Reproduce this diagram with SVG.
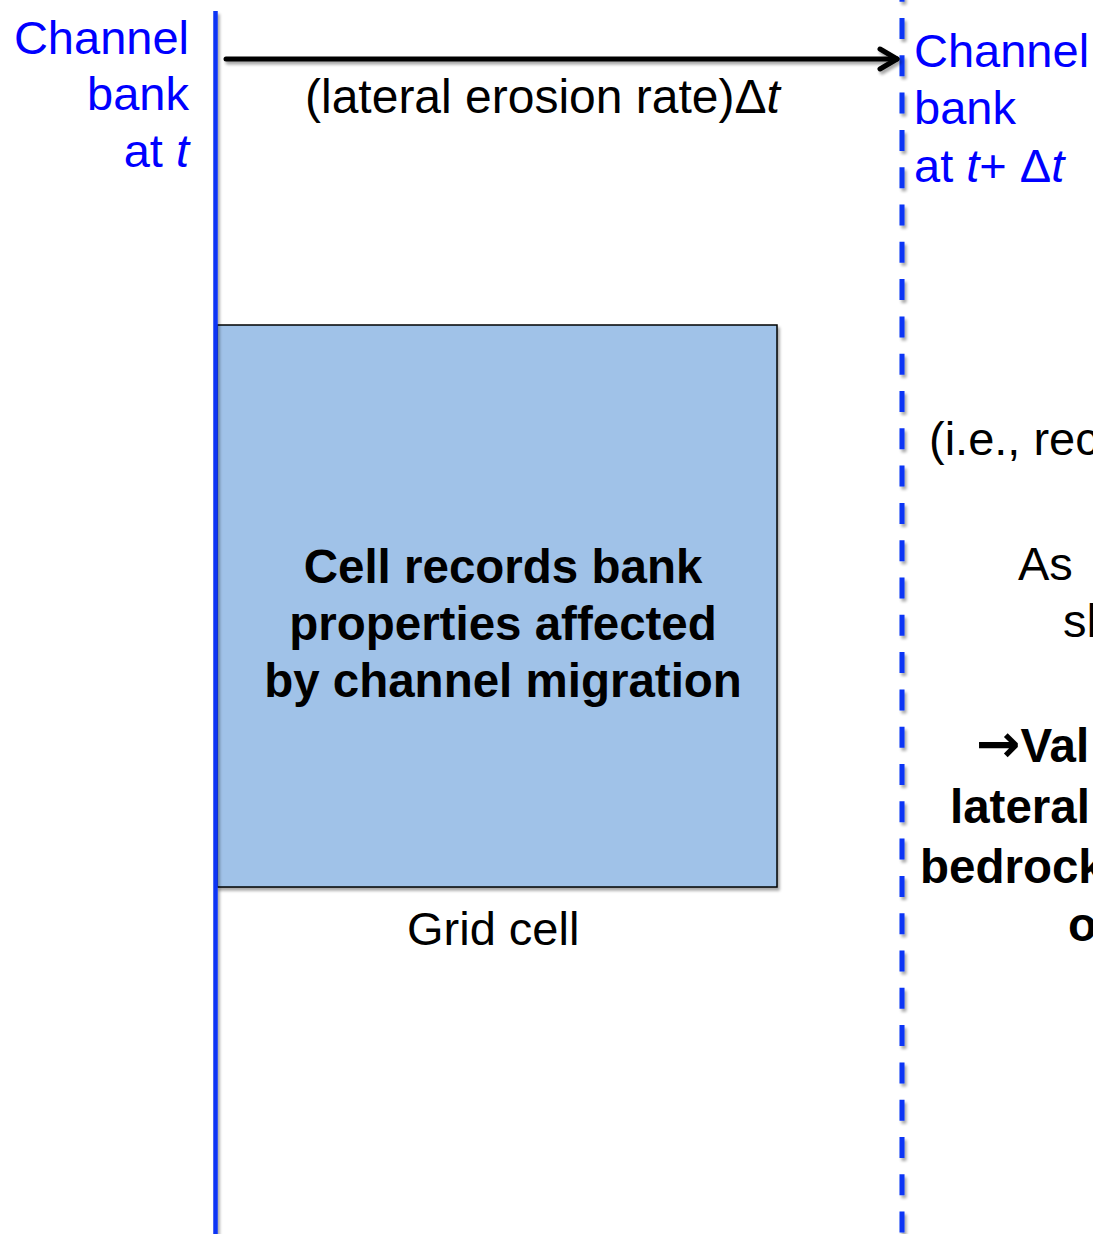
<svg xmlns="http://www.w3.org/2000/svg" width="1093" height="1234" viewBox="0 0 1093 1234">
  <style>
    text { font-family: "Liberation Sans", Arial, Helvetica, sans-serif; font-size: 47px; }
    .blue { fill: #0000FF; }
    .black { fill: #000000; }
    .bold { font-weight: bold; font-size: 47.5px; }
    .it { font-style: italic; }
    .sym { font-family: "DejaVu Sans", sans-serif; font-size: 53px; }
    .bank { stroke: #0A35F5; fill: none; }
  </style>
  <defs>
    <!-- soft drop shadow; user-space region so zero-width lines still render -->
    <filter id="shadow" filterUnits="userSpaceOnUse" x="0" y="-40" width="1093" height="1300">
      <feGaussianBlur in="SourceAlpha" stdDeviation="1.6"/>
      <feOffset dx="2" dy="3" result="b"/>
      <feComponentTransfer><feFuncA type="linear" slope="0.35"/></feComponentTransfer>
      <feMerge><feMergeNode/><feMergeNode in="SourceGraphic"/></feMerge>
    </filter>
    <marker id="chevron" viewBox="0 0 26 26" refX="22" refY="13" markerWidth="26" markerHeight="26" markerUnits="userSpaceOnUse" orient="auto">
      <path d="M5 3 L22 13 L5 23" fill="none" stroke="#000" stroke-width="5" stroke-linecap="round" stroke-linejoin="round"/>
    </marker>
  </defs>

  <rect width="1093" height="1234" fill="#FFFFFF"/>

  <!-- grid cell -->
  <g id="grid-cell">
    <rect x="217" y="325" width="560" height="562" fill="#A0C2E8" stroke="#000" stroke-width="1.5" filter="url(#shadow)"/>
    <text class="black bold" text-anchor="middle" x="503" y="583">Cell records bank</text>
    <text class="black bold" text-anchor="middle" x="503" y="640">properties affected</text>
    <text class="black bold" text-anchor="middle" x="503" y="697">by channel migration</text>
    <text class="black" x="407" y="945">Grid cell</text>
  </g>

  <!-- bank positions and migration arrow -->
  <g id="connectors">
    <line class="bank" x1="215.5" y1="11" x2="215.5" y2="1234" stroke-width="4.5" filter="url(#shadow)"/>
    <line class="bank" x1="902" y1="-19.3" x2="902" y2="1240" stroke-width="5" stroke-dasharray="21 16.3" filter="url(#shadow)"/>
    <line x1="226" y1="59" x2="897" y2="59" stroke="#000" stroke-width="5" stroke-linecap="round" marker-end="url(#chevron)" filter="url(#shadow)"/>
  </g>

  <g id="label-bank-t">
    <text class="blue" text-anchor="end" x="189" y="54">Channel</text>
    <text class="blue" text-anchor="end" x="189" y="110">bank</text>
    <text class="blue" text-anchor="end" x="189" y="167">at <tspan class="it">t</tspan></text>
  </g>

  <g id="label-rate">
    <text class="black" x="305" y="113" style="font-size:48px">(lateral erosion rate)Δ<tspan class="it">t</tspan></text>
  </g>

  <g id="label-bank-t-dt">
    <text class="blue" x="914" y="67">Channel</text>
    <text class="blue" x="914" y="124">bank</text>
    <text class="blue" x="914" y="182">at <tspan class="it">t</tspan>+ Δ<tspan class="it">t</tspan></text>
  </g>

  <g id="label-right">
    <text class="black" x="929" y="455">(i.e., rec</text>
    <text class="black" x="1018" y="580">As</text>
    <text class="black" x="1063" y="637">sh</text>
    <text class="black bold" x="976" y="762"><tspan class="sym">→</tspan>Val</text>
    <text class="black bold" x="950" y="823">lateral</text>
    <text class="black bold" x="920" y="883">bedrock</text>
    <text class="black bold" x="1068" y="941">o</text>
  </g>
</svg>
